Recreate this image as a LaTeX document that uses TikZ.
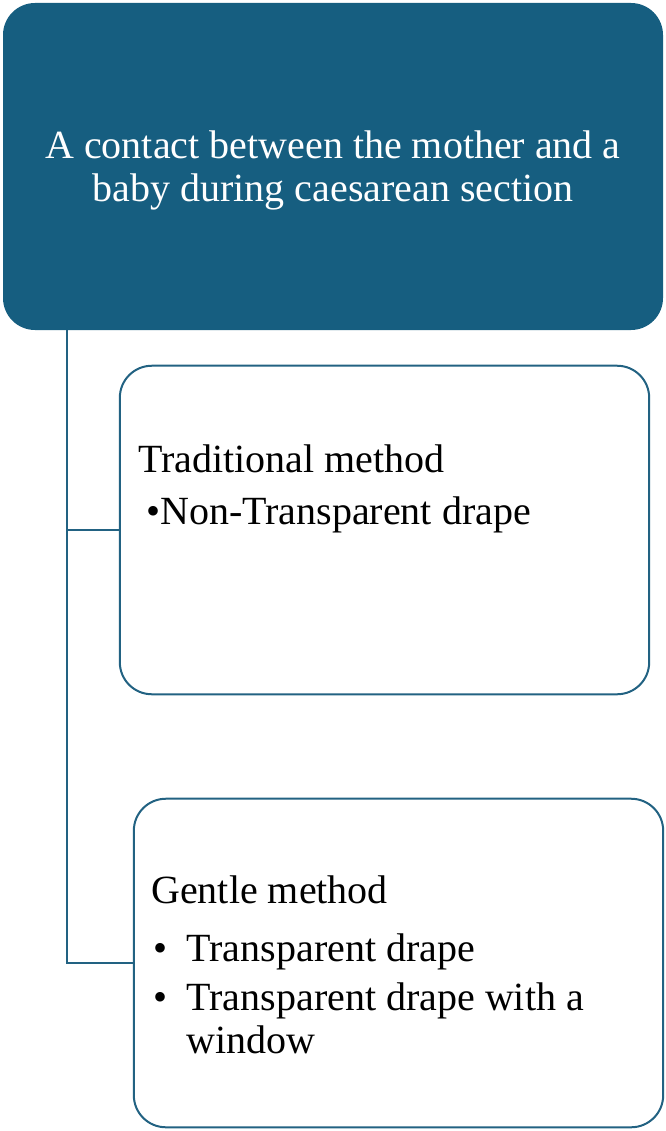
\documentclass[tikz,border=0pt]{standalone}
\usepackage{fontspec}
\setmainfont{Liberation Serif}
\usepackage{xcolor}
\usepackage{tikz}
\usetikzlibrary{positioning}
\definecolor{deepteal}{RGB}{22,94,128}
\definecolor{edgeteal}{RGB}{34,98,130}

\begin{document}
\begin{tikzpicture}[
  x=0.75pt, y=-0.75pt,
  txt/.style   ={inner sep=0pt, anchor=base west, font=\fontsize{30}{32.25}\selectfont, text=black},
  rootb/.style ={fill=deepteal, draw=none, rounded corners=24pt,
                 minimum width=495pt, minimum height=245.25pt},
  childb/.style={fill=white, draw=edgeteal, line width=1.5pt, rounded corners=24pt,
                 minimum width=397pt, minimum height=246.4pt},
  link/.style  ={draw=edgeteal, line width=1.5pt},
]
\useasboundingbox (0,0) rectangle (665,1131);

% ---- root ----
\node[rootb] (root) at (333,166.5) {};
\node[txt, anchor=base, text=white] (roottxt) at (333,158)
  {\begin{tabular}[t]{@{}c@{}}A contact between the mother and a\\ baby during caesarean section\end{tabular}};

% ---- children ----
\node[childb] (trad)   at (384.5,530) {};
\node[childb] (gentle) at (398.5,963) {};

\node[txt] (tradhd)  at (138,472) {Traditional method};
\node[txt] (tradit)  at (146,524) {•Non-Transparent drape};

\node[txt] (gentlehd) at (151,903) {Gentle method};
\node[txt] (gentleA)  at (153,961)
  {\begin{tabular}[t]{@{}p{25pt}@{}l@{}}•&Transparent drape\end{tabular}};
\node[txt] (gentleB)  at (153,1010)
  {\begin{tabular}[t]{@{}p{25pt}@{}l@{}}•&Transparent drape with a\\ &window\end{tabular}};

% ---- edges ----
\coordinate (trunk) at (67,0);
\draw[link] (root.south -| trunk) |- (trad.west);
\draw[link] (root.south -| trunk) |- (gentle.west);
\end{tikzpicture}
\end{document}
